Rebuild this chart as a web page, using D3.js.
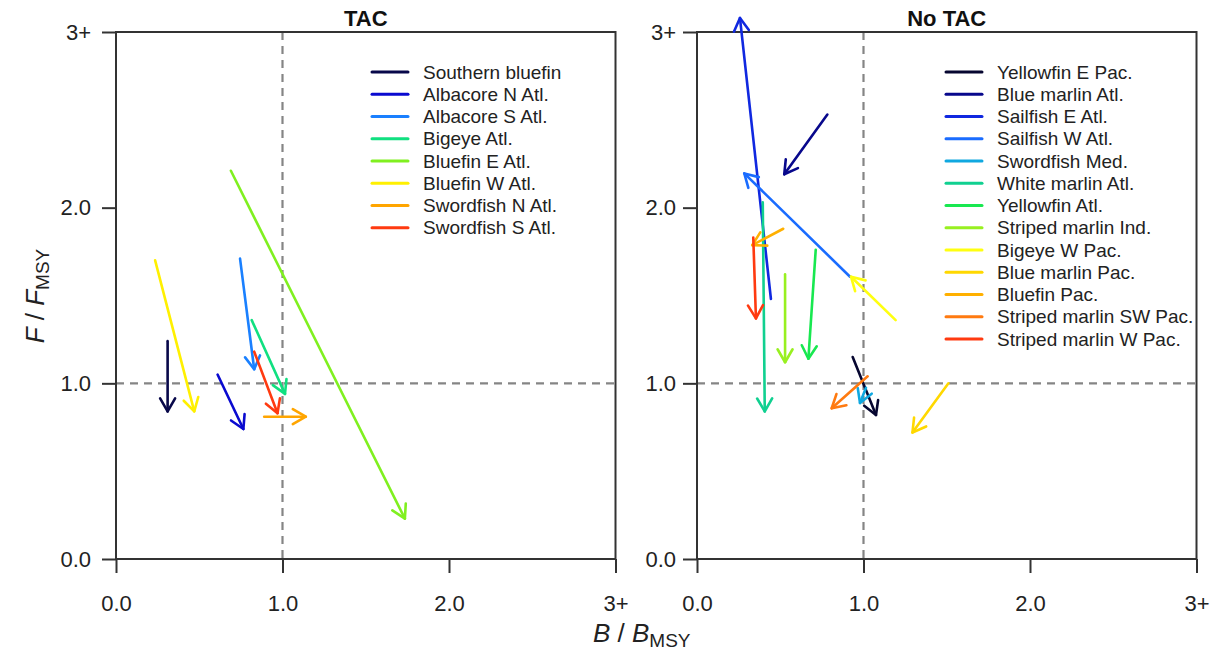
<!DOCTYPE html>
<html>
<head>
<meta charset="utf-8">
<script src="https://cdn.jsdelivr.net/npm/d3@7/dist/d3.min.js"></script>
<style>
  body { margin: 0; background: #fff; }
  svg { font-family: "Liberation Sans", Arial, sans-serif; }
</style>
</head>
<body>
<script>
// left panel: stocks managed with a TAC
var tacStocks = ['Southern bluefin','Albacore N Atl.','Albacore S Atl.','Bigeye Atl.',
                 'Bluefin E Atl.','Bluefin W Atl.','Swordfish N Atl.','Swordfish S Atl.'];
var tacB0 = [0.31, 0.61, 0.745, 0.815, 0.69, 0.235, 0.89, 0.83];
var tacF0 = [1.24, 1.05, 1.71, 1.36, 2.21, 1.70, 0.81, 1.18];
var tacB1 = [0.31, 0.765, 0.83, 1.015, 1.735, 0.47, 1.14, 0.97];
var tacF1 = [0.84, 0.74, 1.08, 0.94, 0.23, 0.84, 0.81, 0.83];

// right panel: stocks without a TAC
var noTacStocks = ['Yellowfin E Pac.','Blue marlin Atl.','Sailfish E Atl.','Sailfish W Atl.',
                   'Swordfish Med.','White marlin Atl.','Yellowfin Atl.','Striped marlin Ind.',
                   'Bigeye W Pac.','Blue marlin Pac.','Bluefin Pac.','Striped marlin SW Pac.',
                   'Striped marlin W Pac.'];
var noTacB0 = [0.935, 0.783, 0.444, 0.919, 1.015, 0.395, 0.713, 0.529, 1.193, 1.51, 0.518, 1.025, 0.338];
var noTacF0 = [1.15, 2.53, 1.48, 1.607, 0.975, 2.03, 1.76, 1.62, 1.36, 1.0, 1.88, 1.04, 1.83];
var noTacB1 = [1.075, 0.524, 0.258, 0.284, 0.979, 0.407, 0.669, 0.529, 0.925, 1.294, 0.332, 0.809, 0.354];
var noTacF1 = [0.82, 2.19, 3.08, 2.195, 0.888, 0.84, 1.14, 1.12, 1.607, 0.72, 1.787, 0.858, 1.37];

var ticks = [0, 1, 2, 3];

var tacColors = ['#08084a','#0a0ad0','#1a80ff','#10e080','#80f020','#fff000','#ffa500','#ff3a10'];
var noTacColors = ['#060630','#08088c','#1028e0','#1a6cff','#10a8e0','#10d090','#18e850',
                   '#98f020','#ffff10','#ffd800','#ffb000','#ff7a10','#ff3a10'];

var w = 1215, h = 655;
var plotTop = 32, plotBottom = 559;
var svg = d3.select('body').append('svg').attr('width', w).attr('height', h);

var fmt = function(d){ return d === 3 ? '3+' : d.toFixed(1); };

function panel(left, right, title, names, b0, f0, b1, f1, colors, legX, yPad){
  var x = d3.scaleLinear().domain([0, 3]).range([left, right]);
  var y = d3.scaleLinear().domain([0, 3]).range([plotBottom, plotTop]);
  var g = svg.append('g');

  // reference lines at B/Bmsy = 1 and F/Fmsy = 1
  g.append('line').attr('x1', x(1)).attr('x2', x(1)).attr('y1', plotTop).attr('y2', plotBottom)
    .attr('stroke', '#858585').attr('stroke-width', 2.2).attr('stroke-dasharray', '8,6');
  g.append('line').attr('x1', left).attr('x2', right).attr('y1', y(1)).attr('y2', y(1))
    .attr('stroke', '#858585').attr('stroke-width', 2.2).attr('stroke-dasharray', '8,6');

  var xAxis = d3.axisBottom(x).tickValues(ticks).tickFormat(fmt).tickSize(14).tickPadding(22).tickSizeOuter(0);
  var yAxis = d3.axisLeft(y).tickValues(ticks).tickFormat(fmt).tickSize(14).tickPadding(yPad).tickSizeOuter(0);

  var xa = g.append('g').attr('transform', 'translate(0,' + plotBottom + ')').call(xAxis);
  var ya = g.append('g').attr('transform', 'translate(' + left + ',0)').call(yAxis);
  [xa, ya].forEach(function(a){
    a.select('.domain').remove();
    a.selectAll('line').attr('stroke', '#333').attr('stroke-width', 2);
    a.selectAll('text').attr('font-size', '22px').attr('fill', '#222')
      .attr('font-family', '"Liberation Sans", Arial, sans-serif');
  });

  g.append('rect').attr('x', left).attr('y', plotTop).attr('width', right - left).attr('height', plotBottom - plotTop)
    .attr('fill', 'none').attr('stroke', '#333').attr('stroke-width', 2);

  g.append('text').attr('x', (left + right) / 2).attr('y', 26).attr('text-anchor', 'middle')
    .attr('font-size', '22px').attr('font-weight', 'bold').attr('fill', '#111').text(title);

  // arrows
  names.forEach(function(n, i){
    var px0 = x(b0[i]), py0 = y(f0[i]), px1 = x(b1[i]), py1 = y(f1[i]);
    var ang = Math.atan2(py1 - py0, px1 - px0);
    var len = 15, spread = Math.PI / 6;
    var hx1 = px1 - len * Math.cos(ang - spread), hy1 = py1 - len * Math.sin(ang - spread);
    var hx2 = px1 - len * Math.cos(ang + spread), hy2 = py1 - len * Math.sin(ang + spread);
    var a = g.append('g').attr('stroke', colors[i]).attr('stroke-width', 2.6)
      .attr('stroke-linecap', 'round').attr('stroke-linejoin', 'round').attr('fill', 'none');
    a.append('line').attr('x1', px0).attr('y1', py0).attr('x2', px1).attr('y2', py1);
    a.append('polyline').attr('points', [[hx1, hy1], [px1, py1], [hx2, hy2]].join(' '));
  });

  // legend
  var leg = g.append('g');
  names.forEach(function(n, i){
    var ly = 72 + i * 22.25;
    leg.append('line').attr('x1', legX).attr('x2', legX + 36).attr('y1', ly).attr('y2', ly)
      .attr('stroke', colors[i]).attr('stroke-width', 3).attr('stroke-linecap', 'round');
    leg.append('text').attr('x', legX + 51).attr('y', ly).attr('dy', '0.35em')
      .attr('font-size', '19px').attr('fill', '#222').text(n);
  });
}

panel(116, 615.5, 'TAC', tacStocks, tacB0, tacF0, tacB1, tacF1, tacColors, 372, 11);
panel(697, 1196.5, 'No TAC', noTacStocks, noTacB0, noTacF0, noTacB1, noTacF1, noTacColors, 946, 7);

// axis titles
var xl = svg.append('text').attr('x', 593).attr('y', 642).attr('font-size', '26px').attr('fill', '#222');
xl.append('tspan').attr('font-style', 'italic').text('B');
xl.append('tspan').text(' / ');
xl.append('tspan').attr('font-style', 'italic').text('B');
xl.append('tspan').attr('font-size', '19px').attr('dy', 5).text('MSY');

var yl = svg.append('text').attr('transform', 'translate(44,296) rotate(-90)')
  .attr('text-anchor', 'middle').attr('font-size', '26px').attr('fill', '#222');
yl.append('tspan').attr('font-style', 'italic').text('F');
yl.append('tspan').text(' / ');
yl.append('tspan').attr('font-style', 'italic').text('F');
yl.append('tspan').attr('font-size', '19px').attr('dy', 5).text('MSY');
</script>
</body>
</html>
